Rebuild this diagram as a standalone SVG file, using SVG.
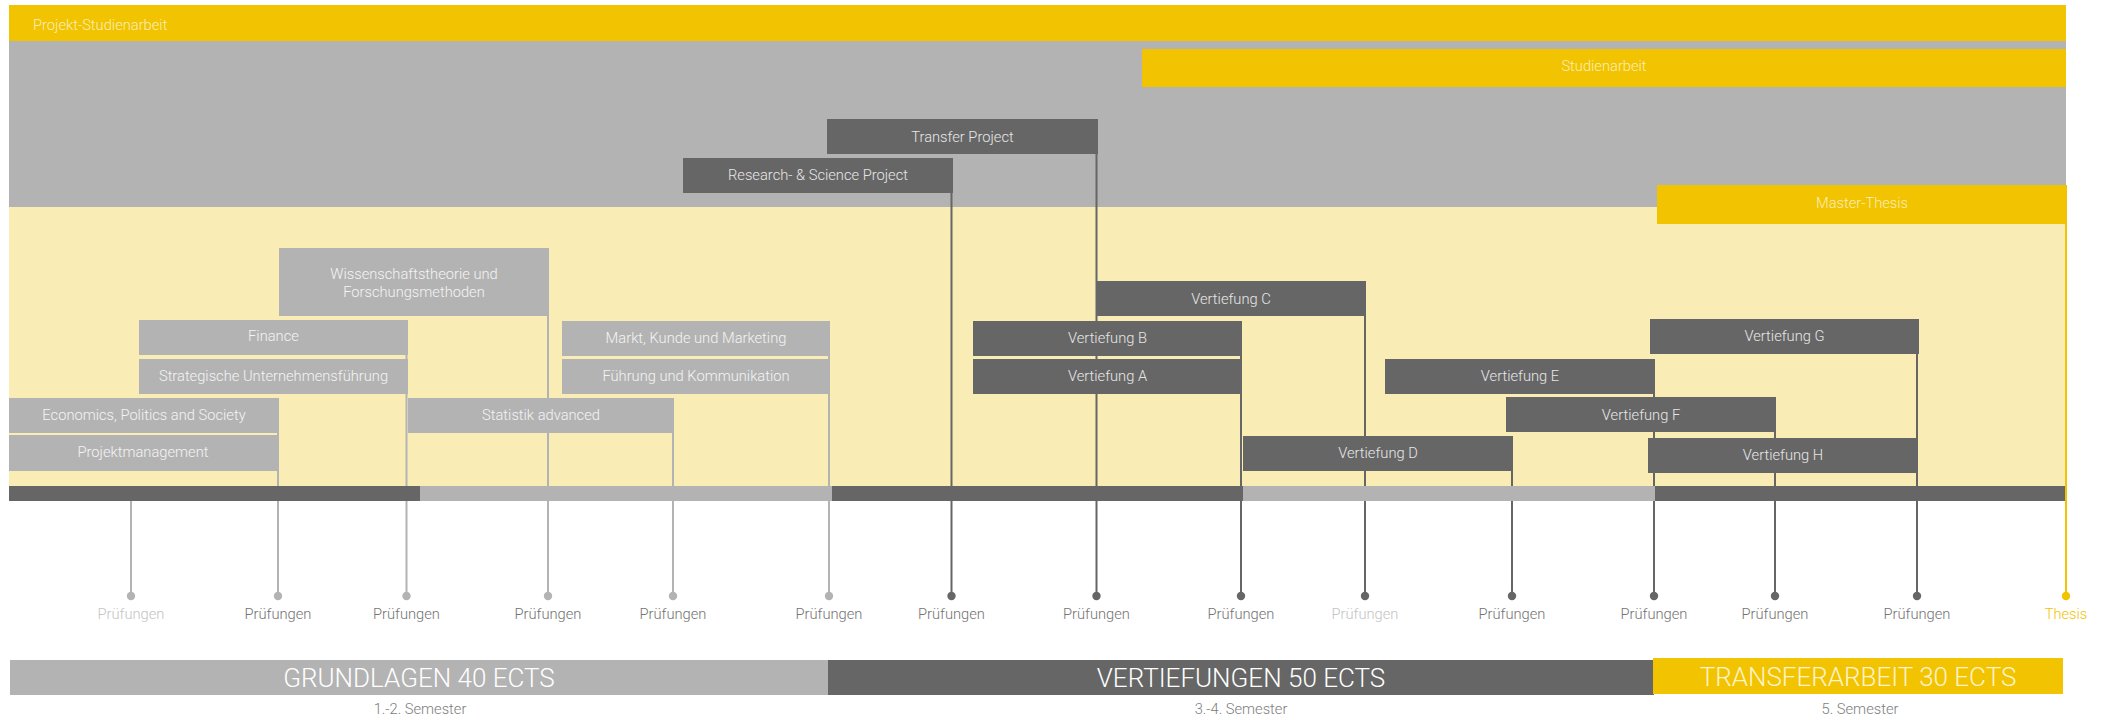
<svg xmlns="http://www.w3.org/2000/svg" width="2109" height="720" viewBox="0 0 2109 720">
<style>
text{font-family:Roboto,"Liberation Sans",sans-serif;font-weight:300;font-size:14.7px}
.c{text-anchor:middle}
.y{fill:#f2c300}
.lg{fill:#b3b3b3}
.dg{fill:#666666}
.tl{fill:#f4f4f4}
.td{fill:#e6e6e6}
.ty{fill:#fbeebb}
.ll{stroke:#b3b3b3;stroke-width:2;fill:none}
.ld{stroke:#666666;stroke-width:2;fill:none}
.ly{stroke:#f2c300;stroke-width:2;fill:none}
.big{font-size:26px}
.pl{fill:#c4c4c4}
.pd{fill:#737373}
.sem{fill:#7d7d7d}
</style>
<g id="background">
<rect x="9" y="41" width="2057" height="166" class="lg"/>
<rect x="9" y="207" width="2056" height="279" fill="#f9ecb5"/>
</g>
<g id="connectors">
<line x1="131" y1="501" x2="131" y2="596" class="ll"/>
<line x1="278" y1="398" x2="278" y2="596" class="ll"/>
<line x1="406.5" y1="320" x2="406.5" y2="596" class="ll"/>
<line x1="548" y1="248" x2="548" y2="596" class="ll"/>
<line x1="673" y1="398" x2="673" y2="596" class="ll"/>
<line x1="829" y1="321" x2="829" y2="596" class="ll"/>
<line x1="951.5" y1="158" x2="951.5" y2="596" class="ld"/>
<line x1="1096.5" y1="119" x2="1096.5" y2="596" class="ld"/>
<line x1="1241" y1="321" x2="1241" y2="596" class="ld"/>
<line x1="1365" y1="281" x2="1365" y2="596" class="ld"/>
<line x1="1512" y1="436" x2="1512" y2="596" class="ld"/>
<line x1="1654" y1="359" x2="1654" y2="596" class="ld"/>
<line x1="1775" y1="397" x2="1775" y2="596" class="ld"/>
<line x1="1917" y1="319" x2="1917" y2="596" class="ld"/>
<line x1="2066" y1="185" x2="2066" y2="596" class="ly"/>
<circle cx="131" cy="596" r="4.2" class="lg"/>
<circle cx="278" cy="596" r="4.2" class="lg"/>
<circle cx="406.5" cy="596" r="4.2" class="lg"/>
<circle cx="548" cy="596" r="4.2" class="lg"/>
<circle cx="673" cy="596" r="4.2" class="lg"/>
<circle cx="829" cy="596" r="4.2" class="lg"/>
<circle cx="951.5" cy="596" r="4.2" class="dg"/>
<circle cx="1096.5" cy="596" r="4.2" class="dg"/>
<circle cx="1241" cy="596" r="4.2" class="dg"/>
<circle cx="1365" cy="596" r="4.2" class="dg"/>
<circle cx="1512" cy="596" r="4.2" class="dg"/>
<circle cx="1654" cy="596" r="4.2" class="dg"/>
<circle cx="1775" cy="596" r="4.2" class="dg"/>
<circle cx="1917" cy="596" r="4.2" class="dg"/>
<circle cx="2066" cy="596" r="4.2" class="y"/>
</g>
<g id="timeline">
<rect x="9" y="486" width="411.5" height="15" class="dg"/>
<rect x="420.5" y="486" width="411.5" height="15" class="lg"/>
<rect x="832" y="486" width="411.5" height="15" class="dg"/>
<rect x="1243.5" y="486" width="411.5" height="15" class="lg"/>
<rect x="1655" y="486" width="410" height="15" class="dg"/>
</g>
<g id="projekt-studienarbeit"><rect x="9" y="5" width="2057" height="36" class="y"/><text x="33" y="30" class="ty">Projekt-Studienarbeit</text></g>
<g id="studienarbeit"><rect x="1142" y="49" width="924" height="38" class="y"/><text x="1604" y="71" class="c ty">Studienarbeit</text></g>
<g id="transfer-project"><rect x="827" y="119" width="271" height="35" class="dg"/><text x="962.5" y="141.5" class="c td">Transfer Project</text></g>
<g id="research-project"><rect x="683" y="158" width="270" height="35" class="dg"/><text x="818" y="180" class="c td">Research- &amp; Science Project</text></g>
<g id="master-thesis"><rect x="1657" y="185" width="410" height="39" class="y"/><text x="1862" y="208" class="c ty">Master-Thesis</text></g>
<g id="wissenschaftstheorie"><rect x="279" y="248" width="270" height="68" class="lg"/><text x="414" y="279" class="c tl">Wissenschaftstheorie und</text><text x="414" y="297" class="c tl">Forschungsmethoden</text></g>
<g id="finance"><rect x="139" y="320" width="269" height="35" class="lg"/><text x="273.5" y="341" class="c tl">Finance</text></g>
<g id="strategische"><rect x="139" y="359" width="269" height="35" class="lg"/><text x="273.5" y="380.5" class="c tl">Strategische Unternehmensführung</text></g>
<g id="economics"><rect x="9" y="398" width="270" height="35" class="lg"/><text x="144" y="420" class="c tl">Economics, Politics and Society</text></g>
<g id="projektmanagement"><rect x="9" y="435" width="268" height="36" class="lg"/><text x="143" y="457" class="c tl">Projektmanagement</text></g>
<g id="statistik"><rect x="408" y="398" width="266" height="35" class="lg"/><text x="541" y="420" class="c tl">Statistik advanced</text></g>
<g id="markt"><rect x="562" y="321" width="268" height="35" class="lg"/><text x="696" y="343" class="c tl">Markt, Kunde und Marketing</text></g>
<g id="fuehrung"><rect x="562" y="359" width="268" height="35" class="lg"/><text x="696" y="381" class="c tl">Führung und Kommunikation</text></g>
<g id="vertiefung-c"><rect x="1096" y="281" width="270" height="35" class="dg"/><text x="1231" y="304" class="c td">Vertiefung C</text></g>
<g id="vertiefung-b"><rect x="973" y="321" width="269" height="35" class="dg"/><text x="1107.5" y="343" class="c td">Vertiefung B</text></g>
<g id="vertiefung-a"><rect x="973" y="359" width="269" height="35" class="dg"/><text x="1107.5" y="381" class="c td">Vertiefung A</text></g>
<g id="vertiefung-d"><rect x="1243" y="436" width="270" height="35" class="dg"/><text x="1378" y="458" class="c td">Vertiefung D</text></g>
<g id="vertiefung-e"><rect x="1385" y="359" width="270" height="35" class="dg"/><text x="1520" y="381" class="c td">Vertiefung E</text></g>
<g id="vertiefung-f"><rect x="1506" y="397" width="270" height="35" class="dg"/><text x="1641" y="420" class="c td">Vertiefung F</text></g>
<g id="vertiefung-g"><rect x="1650" y="319" width="269" height="35" class="dg"/><text x="1784.5" y="341" class="c td">Vertiefung G</text></g>
<g id="vertiefung-h"><rect x="1648" y="438" width="270" height="35" class="dg"/><text x="1783" y="460" class="c td">Vertiefung H</text></g>
<g id="labels">
<text x="131" y="619" class="c pl">Prüfungen</text>
<text x="278" y="619" class="c pd">Prüfungen</text>
<text x="406.5" y="619" class="c pd">Prüfungen</text>
<text x="548" y="619" class="c pd">Prüfungen</text>
<text x="673" y="619" class="c pd">Prüfungen</text>
<text x="829" y="619" class="c pd">Prüfungen</text>
<text x="951.5" y="619" class="c pd">Prüfungen</text>
<text x="1096.5" y="619" class="c pd">Prüfungen</text>
<text x="1241" y="619" class="c pd">Prüfungen</text>
<text x="1365" y="619" class="c pl">Prüfungen</text>
<text x="1512" y="619" class="c pd">Prüfungen</text>
<text x="1654" y="619" class="c pd">Prüfungen</text>
<text x="1775" y="619" class="c pd">Prüfungen</text>
<text x="1917" y="619" class="c pd">Prüfungen</text>
<text x="2066" y="619" class="c y">Thesis</text>
</g>
<g id="grundlagen"><rect x="10" y="660" width="818" height="35" class="lg"/><text x="419" y="687" class="c big" fill="#ffffff">GRUNDLAGEN 40 ECTS</text><text x="420" y="714" class="c sem">1.-2. Semester</text></g>
<g id="vertiefungen"><rect x="828" y="660" width="826" height="35" class="dg"/><text x="1241" y="687" class="c big" fill="#ffffff">VERTIEFUNGEN 50 ECTS</text><text x="1241" y="714" class="c sem">3.-4. Semester</text></g>
<g id="transferarbeit"><rect x="1653" y="658" width="410" height="36" class="y"/><text x="1858" y="686" class="c big" fill="#fdf3cc">TRANSFERARBEIT 30 ECTS</text><text x="1860" y="714" class="c sem">5. Semester</text></g>
</svg>
